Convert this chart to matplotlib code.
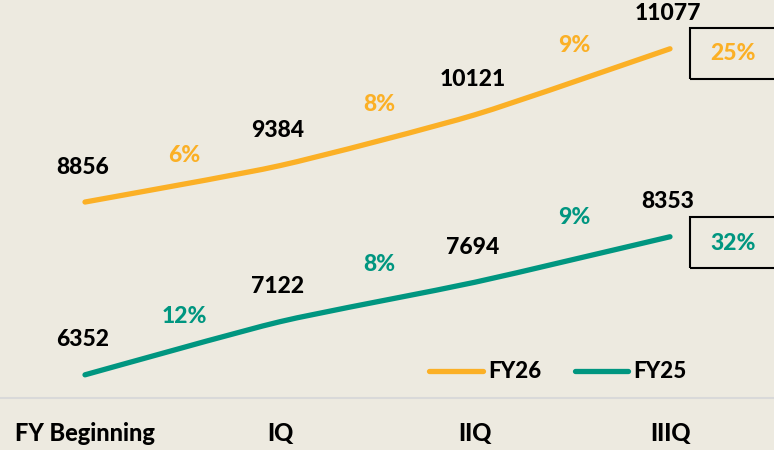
import matplotlib.pyplot as plt
from matplotlib.path import Path
from matplotlib.patches import PathPatch, Rectangle
from matplotlib.lines import Line2D

categories = ["FY Beginning", "IQ", "IIQ", "IIIQ"]
fy26 = [8856, 9384, 10121, 11077]
fy25 = [6352, 7122, 7694, 8353]

ORANGE = "#FBB026"
TEAL = "#009680"
BG = "#EDEAE0"
W = 900

plt.rcParams["font.family"] = ["Lato", "DejaVu Sans"]
plt.rcParams["font.weight"] = "bold"


def smooth_path(xs, ys, k=10):
    # bezier through the points, a mild version of excel's smoothed line
    n = len(xs)
    verts = [(xs[0], ys[0])]
    codes = [Path.MOVETO]
    for i in range(n - 1):
        x0, y0 = xs[max(i - 1, 0)], ys[max(i - 1, 0)]
        x1, y1 = xs[i], ys[i]
        x2, y2 = xs[i + 1], ys[i + 1]
        x3, y3 = xs[min(i + 2, n - 1)], ys[min(i + 2, n - 1)]
        verts.append((x1 + (x2 - x0) / k, y1 + (y2 - y0) / k))
        verts.append((x2 - (x3 - x1) / k, y2 - (y3 - y1) / k))
        verts.append((x2, y2))
        codes += [Path.CURVE4] * 3
    return Path(verts, codes)


fig = plt.figure(figsize=(7.74, 4.5), dpi=100, facecolor=BG)
ax = fig.add_axes([0, 52 / 450, 1, 398 / 450])
ax.set_facecolor(BG)
ax.set_xlim(-85 / 195, (774 - 85) / 195)
ax.set_ylim(6016, 11784)

xs = list(range(len(categories)))
for vals, color in [(fy26, ORANGE), (fy25, TEAL)]:
    patch = PathPatch(smooth_path(xs, vals), fill=False, edgecolor=color,
                      lw=3.8, capstyle="round", joinstyle="round")
    ax.add_patch(patch)

# value labels above each point
for vals in (fy26, fy25):
    for i, v in enumerate(vals):
        ax.annotate(str(v), (i, v), xytext=(-2, 35), textcoords="offset pixels",
                    ha="center", va="center", fontsize=16.5, fontweight=W, color="black")

# quarter on quarter growth labels
offs26 = [28, 36, 36]
offs25 = [32, 37, 42]
for vals, color, offs in [(fy26, ORANGE, offs26), (fy25, TEAL, offs25)]:
    for i in range(len(vals) - 1):
        g = round((vals[i + 1] / vals[i] - 1) * 100)
        ax.annotate(f"{g}%", (i + 0.5, (vals[i] + vals[i + 1]) / 2), xytext=(2, offs[i]),
                    textcoords="offset pixels", ha="center", va="center",
                    fontsize=16.5, fontweight=W, color=color)

# total growth boxes on the right
for vals, color, ytop in [(fy26, ORANGE, 28), (fy25, TEAL, 217)]:
    total = round((vals[-1] / vals[0] - 1) * 100)
    fig.add_artist(Rectangle((690 / 774, 1 - (ytop + 51) / 450), 100 / 774, 51 / 450,
                             transform=fig.transFigure, fill=False, ec="black", lw=1.5))
    fig.text(733 / 774, 1 - (ytop + 26) / 450, f"{total}%", ha="center", va="center",
             fontsize=16.5, fontweight=W, color=color)

for s in ["top", "left", "right"]:
    ax.spines[s].set_visible(False)
ax.spines["bottom"].set_color("#D9D9D9")
ax.spines["bottom"].set_linewidth(1.5)
ax.set_yticks([])
ax.set_xticks(xs)
ax.set_xticklabels(categories, fontsize=17, fontweight=W)
ax.tick_params(axis="x", length=0, pad=17)

handles = [Line2D([], [], color=ORANGE, lw=3.8, solid_capstyle="round"),
           Line2D([], [], color=TEAL, lw=3.8, solid_capstyle="round")]
fig.legend(handles, ["FY26", "FY25"], loc="center", ncol=2, frameon=False,
           bbox_to_anchor=(558 / 774, 1 - 372 / 450),
           handlelength=2.4, handletextpad=0.25, columnspacing=1.5,
           prop={"weight": W, "size": 16})

fig.savefig("out.png", dpi=100, facecolor=BG)
